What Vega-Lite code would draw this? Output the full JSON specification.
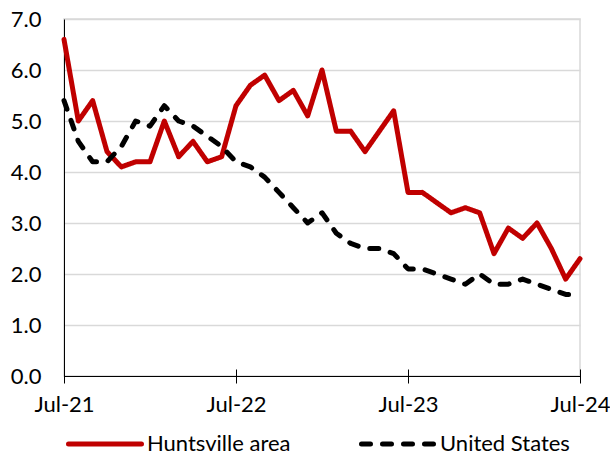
{
  "$schema": "https://vega.github.io/schema/vega-lite/v6.json",
  "width": 516,
  "height": 357,
  "autosize": "none",
  "padding": {"left": 64, "top": 19, "right": 30, "bottom": 79},
  "background": "white",
  "config": {
    "font": "Lato",
    "view": {"stroke": "#d9d9d9", "strokeWidth": 1.5},
    "legend": {
      "symbolType": "stroke",
      "symbolSize": 5329,
      "symbolStrokeWidth": 5,
      "labelFontSize": 22,
      "labelColor": "#000000",
      "labelOffset": 3,
      "columnPadding": 60,
      "padding": 0
    }
  },
  "datasets": {
    "rates": [
      {"month": "2021-07", "series": "Huntsville area", "value": 6.6},
      {"month": "2021-08", "series": "Huntsville area", "value": 5.0},
      {"month": "2021-09", "series": "Huntsville area", "value": 5.4},
      {"month": "2021-10", "series": "Huntsville area", "value": 4.4},
      {"month": "2021-11", "series": "Huntsville area", "value": 4.1},
      {"month": "2021-12", "series": "Huntsville area", "value": 4.2},
      {"month": "2022-01", "series": "Huntsville area", "value": 4.2},
      {"month": "2022-02", "series": "Huntsville area", "value": 5.0},
      {"month": "2022-03", "series": "Huntsville area", "value": 4.3},
      {"month": "2022-04", "series": "Huntsville area", "value": 4.6},
      {"month": "2022-05", "series": "Huntsville area", "value": 4.2},
      {"month": "2022-06", "series": "Huntsville area", "value": 4.3},
      {"month": "2022-07", "series": "Huntsville area", "value": 5.3},
      {"month": "2022-08", "series": "Huntsville area", "value": 5.7},
      {"month": "2022-09", "series": "Huntsville area", "value": 5.9},
      {"month": "2022-10", "series": "Huntsville area", "value": 5.4},
      {"month": "2022-11", "series": "Huntsville area", "value": 5.6},
      {"month": "2022-12", "series": "Huntsville area", "value": 5.1},
      {"month": "2023-01", "series": "Huntsville area", "value": 6.0},
      {"month": "2023-02", "series": "Huntsville area", "value": 4.8},
      {"month": "2023-03", "series": "Huntsville area", "value": 4.8},
      {"month": "2023-04", "series": "Huntsville area", "value": 4.4},
      {"month": "2023-05", "series": "Huntsville area", "value": 4.8},
      {"month": "2023-06", "series": "Huntsville area", "value": 5.2},
      {"month": "2023-07", "series": "Huntsville area", "value": 3.6},
      {"month": "2023-08", "series": "Huntsville area", "value": 3.6},
      {"month": "2023-09", "series": "Huntsville area", "value": 3.4},
      {"month": "2023-10", "series": "Huntsville area", "value": 3.2},
      {"month": "2023-11", "series": "Huntsville area", "value": 3.3},
      {"month": "2023-12", "series": "Huntsville area", "value": 3.2},
      {"month": "2024-01", "series": "Huntsville area", "value": 2.4},
      {"month": "2024-02", "series": "Huntsville area", "value": 2.9},
      {"month": "2024-03", "series": "Huntsville area", "value": 2.7},
      {"month": "2024-04", "series": "Huntsville area", "value": 3.0},
      {"month": "2024-05", "series": "Huntsville area", "value": 2.5},
      {"month": "2024-06", "series": "Huntsville area", "value": 1.9},
      {"month": "2024-07", "series": "Huntsville area", "value": 2.3},
      {"month": "2021-07", "series": "United States", "value": 5.4},
      {"month": "2021-08", "series": "United States", "value": 4.6},
      {"month": "2021-09", "series": "United States", "value": 4.2},
      {"month": "2021-10", "series": "United States", "value": 4.2},
      {"month": "2021-11", "series": "United States", "value": 4.5},
      {"month": "2021-12", "series": "United States", "value": 5.0},
      {"month": "2022-01", "series": "United States", "value": 4.9},
      {"month": "2022-02", "series": "United States", "value": 5.3},
      {"month": "2022-03", "series": "United States", "value": 5.0},
      {"month": "2022-04", "series": "United States", "value": 4.9},
      {"month": "2022-05", "series": "United States", "value": 4.7},
      {"month": "2022-06", "series": "United States", "value": 4.5},
      {"month": "2022-07", "series": "United States", "value": 4.2},
      {"month": "2022-08", "series": "United States", "value": 4.1},
      {"month": "2022-09", "series": "United States", "value": 3.9},
      {"month": "2022-10", "series": "United States", "value": 3.6},
      {"month": "2022-11", "series": "United States", "value": 3.3},
      {"month": "2022-12", "series": "United States", "value": 3.0},
      {"month": "2023-01", "series": "United States", "value": 3.2},
      {"month": "2023-02", "series": "United States", "value": 2.8},
      {"month": "2023-03", "series": "United States", "value": 2.6},
      {"month": "2023-04", "series": "United States", "value": 2.5},
      {"month": "2023-05", "series": "United States", "value": 2.5},
      {"month": "2023-06", "series": "United States", "value": 2.4},
      {"month": "2023-07", "series": "United States", "value": 2.1},
      {"month": "2023-08", "series": "United States", "value": 2.1},
      {"month": "2023-09", "series": "United States", "value": 2.0},
      {"month": "2023-10", "series": "United States", "value": 1.9},
      {"month": "2023-11", "series": "United States", "value": 1.8},
      {"month": "2023-12", "series": "United States", "value": 2.0},
      {"month": "2024-01", "series": "United States", "value": 1.8},
      {"month": "2024-02", "series": "United States", "value": 1.8},
      {"month": "2024-03", "series": "United States", "value": 1.9},
      {"month": "2024-04", "series": "United States", "value": 1.8},
      {"month": "2024-05", "series": "United States", "value": 1.7},
      {"month": "2024-06", "series": "United States", "value": 1.6},
      {"month": "2024-07", "series": "United States", "value": 1.6}
    ]
  },
  "data": {"name": "rates"},
  "mark": {"type": "line", "strokeWidth": 5, "strokeCap": "round", "strokeJoin": "round"},
  "encoding": {
    "x": {
      "field": "month",
      "type": "ordinal",
      "scale": {"type": "point", "padding": 0},
      "axis": {
        "title": null,
        "values": ["2021-07", "2022-07", "2023-07", "2024-07"],
        "labelExpr": "'Jul-' + slice(datum.value, 2, 4)",
        "labelAngle": 0,
        "labelFontSize": 22,
        "labelColor": "#000000",
        "labelPadding": 11,
        "domain": false,
        "offset": -7,
        "tickSize": 14,
        "tickColor": "#000000",
        "tickWidth": 1,
        "grid": false
      }
    },
    "y": {
      "field": "value",
      "type": "quantitative",
      "scale": {"domain": [0, 7], "nice": false},
      "axis": {
        "title": null,
        "values": [0, 1, 2, 3, 4, 5, 6, 7],
        "format": ".1f",
        "labelFontSize": 22,
        "labelColor": "#000000",
        "labelPadding": 23,
        "ticks": false,
        "domainColor": "#000000",
        "domainWidth": 1,
        "grid": true,
        "gridColor": {"condition": {"test": "datum.value === 0", "value": "#000000"}, "value": "#d9d9d9"},
        "gridWidth": {"condition": {"test": "datum.value === 0", "value": 1}, "value": 1.5}
      }
    },
    "color": {
      "field": "series",
      "type": "nominal",
      "scale": {"domain": ["Huntsville area", "United States"], "range": ["#c00000", "#000000"]},
      "legend": {
        "title": null,
        "orient": "none",
        "direction": "horizontal",
        "legendX": 2,
        "legendY": 386,
        "encode": {"symbols": {"update": {"strokeCap": {"value": "round"}}}}
      }
    },
    "strokeDash": {
      "field": "series",
      "type": "nominal",
      "scale": {"domain": ["Huntsville area", "United States"], "range": [[1, 0], [9, 12]]},
      "legend": {
        "title": null,
        "orient": "none",
        "direction": "horizontal",
        "legendX": 2,
        "legendY": 386,
        "encode": {"symbols": {"update": {"strokeCap": {"value": "round"}}}}
      }
    }
  }
}
